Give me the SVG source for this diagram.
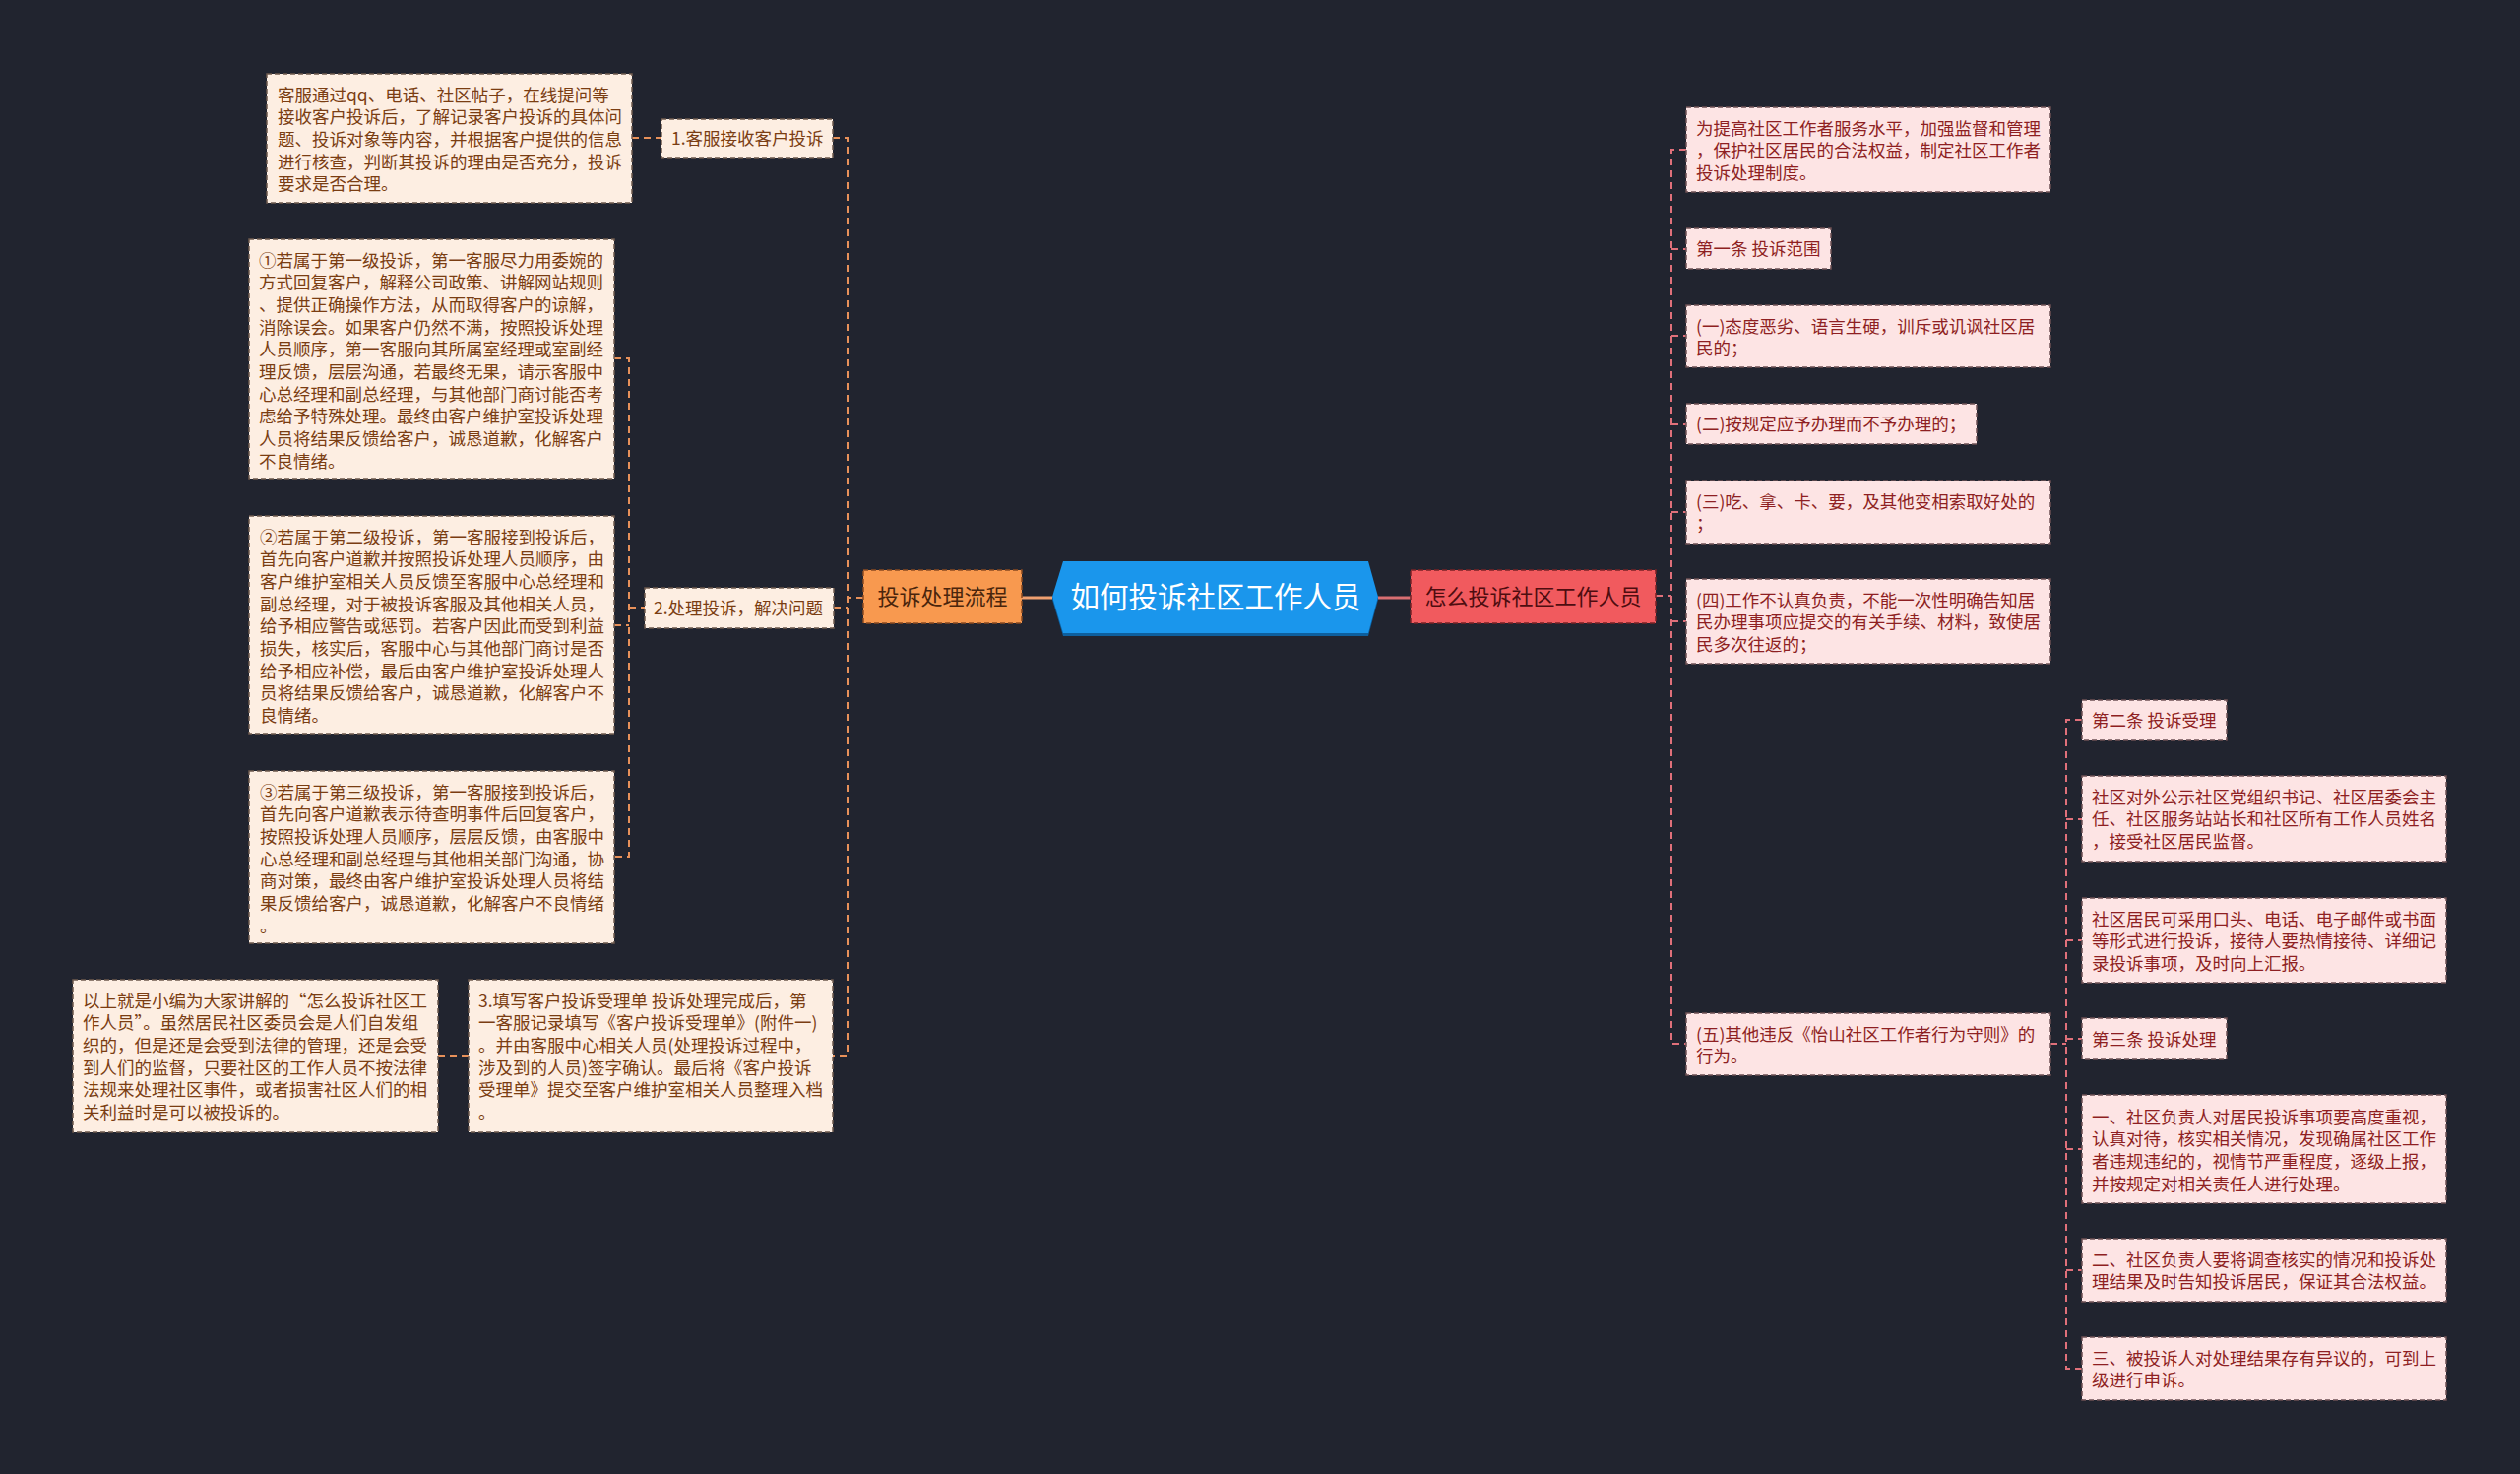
<svg xmlns="http://www.w3.org/2000/svg" width="2560" height="1497" viewBox="0 0 2560 1497">
<defs>
<style>
.t{font-family:"Noto Sans CJK SC","Liberation Sans",sans-serif;font-size:17.5px}
.lb{fill:#fdeee2;stroke:#6e5a4e;stroke-width:1.5;stroke-dasharray:5 3}
.lt{fill:#7a3d12}
.rb{fill:#fde4e4;stroke:#6e5054;stroke-width:1.5;stroke-dasharray:5 3}
.rt{fill:#8e1f22}
.lc{fill:none;stroke:#e8915a;stroke-width:2;stroke-dasharray:7 5}
.rc{fill:none;stroke:#e0707a;stroke-width:2;stroke-dasharray:7 5}
</style>
</defs>
<rect width="2560" height="1497" fill="#21242f"/>

<g id="connectors">
<path class="lc" d="M877,607 H861 M846,140 H861 V1072 H846 M847,617 H861"/>
<path class="lc" d="M642,140 H672"/>
<path class="lc" d="M624,364 H639 V870 H624 M624,635 H639 M639,617 H655"/>
<path class="lc" d="M445,1072 H476"/>
<path class="rc" d="M1682,605 H1698 M1713,152 H1698 V1060 H1713 M1698,253 H1713 M1698,341 H1713 M1698,431 H1713 M1698,520 H1713 M1698,631 H1713"/>
<path class="rc" d="M2083,1060 H2099 M2115,731 H2099 V1390 H2115 M2099,832 H2115 M2099,955 H2115 M2099,1055 H2115 M2099,1167 H2115 M2099,1290 H2115"/>
<path d="M1038,607 H1069" stroke="#f0a070" stroke-width="3"/>
<path d="M1400,607 H1433" stroke="#d96f72" stroke-width="3"/>
</g>

<g id="root">
<polygon points="1069,609 1080,573 1390,573 1400,609 1390,646 1080,646" fill="#0d5f9e"/>
<polygon points="1069,606 1080,570 1390,570 1400,606 1390,643 1080,643" fill="#1a96ec"/>
<text x="1235" y="617" text-anchor="middle" font-family="Noto Sans CJK SC, Liberation Sans, sans-serif" font-size="29.5" fill="#ffffff">如何投诉社区工作人员</text>
</g>

<g id="branch-left">
<rect x="877" y="579" width="161" height="54" fill="#f8994f" stroke="#8a4a20" stroke-width="1.5" stroke-dasharray="5 3"/>
<text x="957.5" y="614" text-anchor="middle" font-family="Noto Sans CJK SC, Liberation Sans, sans-serif" font-size="22" fill="#4a250c">投诉处理流程</text>
</g>

<g id="branch-right">
<rect x="1433" y="579" width="249" height="54" fill="#f15a5e" stroke="#7a2226" stroke-width="1.5" stroke-dasharray="5 3"/>
<text x="1557.5" y="614" text-anchor="middle" font-family="Noto Sans CJK SC, Liberation Sans, sans-serif" font-size="22" fill="#4e0d10">怎么投诉社区工作人员</text>
</g>

<g id="tag1">
<rect class="lb" x="672" y="121" width="174" height="39"/>
<text class="t lt" x="682" y="146.5">1.客服接收客户投诉</text>
</g>

<g id="boxA">
<rect class="lb" x="271" y="75" width="371" height="131"/>
<text class="t lt"><tspan x="282" y="102.5">客服通过qq、电话、社区帖子，在线提问等</tspan><tspan x="282" y="125.2">接收客户投诉后，了解记录客户投诉的具体问</tspan><tspan x="282" y="147.9">题、投诉对象等内容，并根据客户提供的信息</tspan><tspan x="282" y="170.6">进行核查，判断其投诉的理由是否充分，投诉</tspan><tspan x="282" y="193.3">要求是否合理。</tspan></text>
</g>

<g id="tag2">
<rect class="lb" x="655" y="597" width="192" height="41"/>
<text class="t lt" x="664" y="623.5">2.处理投诉，解决问题</text>
</g>

<g id="box1">
<rect class="lb" x="253" y="243" width="371" height="243"/>
<text class="t lt"><tspan x="263" y="270.5">①若属于第一级投诉，第一客服尽力用委婉的</tspan><tspan x="263" y="293.2">方式回复客户，解释公司政策、讲解网站规则</tspan><tspan x="263" y="315.9">、提供正确操作方法，从而取得客户的谅解，</tspan><tspan x="263" y="338.6">消除误会。如果客户仍然不满，按照投诉处理</tspan><tspan x="263" y="361.3">人员顺序，第一客服向其所属室经理或室副经</tspan><tspan x="263" y="384">理反馈，层层沟通，若最终无果，请示客服中</tspan><tspan x="263" y="406.7">心总经理和副总经理，与其他部门商讨能否考</tspan><tspan x="263" y="429.4">虑给予特殊处理。最终由客户维护室投诉处理</tspan><tspan x="263" y="452.1">人员将结果反馈给客户，诚恳道歉，化解客户</tspan><tspan x="263" y="474.8">不良情绪。</tspan></text>
</g>

<g id="box2">
<rect class="lb" x="253" y="524" width="371" height="221"/>
<text class="t lt"><tspan x="264" y="551.5">②若属于第二级投诉，第一客服接到投诉后，</tspan><tspan x="264" y="574.2">首先向客户道歉并按照投诉处理人员顺序，由</tspan><tspan x="264" y="596.9">客户维护室相关人员反馈至客服中心总经理和</tspan><tspan x="264" y="619.6">副总经理，对于被投诉客服及其他相关人员，</tspan><tspan x="264" y="642.3">给予相应警告或惩罚。若客户因此而受到利益</tspan><tspan x="264" y="665">损失，核实后，客服中心与其他部门商讨是否</tspan><tspan x="264" y="687.7">给予相应补偿，最后由客户维护室投诉处理人</tspan><tspan x="264" y="710.4">员将结果反馈给客户，诚恳道歉，化解客户不</tspan><tspan x="264" y="733.1">良情绪。</tspan></text>
</g>

<g id="box3">
<rect class="lb" x="253" y="783" width="371" height="175"/>
<text class="t lt"><tspan x="264" y="810.5">③若属于第三级投诉，第一客服接到投诉后，</tspan><tspan x="264" y="833.2">首先向客户道歉表示待查明事件后回复客户，</tspan><tspan x="264" y="855.9">按照投诉处理人员顺序，层层反馈，由客服中</tspan><tspan x="264" y="878.6">心总经理和副总经理与其他相关部门沟通，协</tspan><tspan x="264" y="901.3">商对策，最终由客户维护室投诉处理人员将结</tspan><tspan x="264" y="924">果反馈给客户，诚恳道歉，化解客户不良情绪</tspan><tspan x="264" y="946.7">。</tspan></text>
</g>

<g id="tag3">
<rect class="lb" x="476" y="995" width="370" height="155"/>
<text class="t lt"><tspan x="486" y="1022.5">3.填写客户投诉受理单 投诉处理完成后，第</tspan><tspan x="486" y="1045.2">一客服记录填写《客户投诉受理单》(附件一)</tspan><tspan x="486" y="1067.9">。并由客服中心相关人员(处理投诉过程中，</tspan><tspan x="486" y="1090.6">涉及到的人员)签字确认。最后将《客户投诉</tspan><tspan x="486" y="1113.3">受理单》提交至客户维护室相关人员整理入档</tspan><tspan x="486" y="1136">。</tspan></text>
</g>

<g id="boxEnd">
<rect class="lb" x="74" y="995" width="371" height="155"/>
<text class="t lt"><tspan x="84" y="1022.5">以上就是小编为大家讲解的“怎么投诉社区工</tspan><tspan x="84" y="1045.2">作人员”。虽然居民社区委员会是人们自发组</tspan><tspan x="84" y="1067.9">织的，但是还是会受到法律的管理，还是会受</tspan><tspan x="84" y="1090.6">到人们的监督，只要社区的工作人员不按法律</tspan><tspan x="84" y="1113.3">法规来处理社区事件，或者损害社区人们的相</tspan><tspan x="84" y="1136">关利益时是可以被投诉的。</tspan></text>
</g>

<g id="r1">
<rect class="rb" x="1713" y="109" width="370" height="86"/>
<text class="t rt"><tspan x="1723" y="136.5">为提高社区工作者服务水平，加强监督和管理</tspan><tspan x="1723" y="159.2">，保护社区居民的合法权益，制定社区工作者</tspan><tspan x="1723" y="181.9">投诉处理制度。</tspan></text>
</g>
<g id="r2">
<rect class="rb" x="1713" y="232" width="147" height="41"/>
<text class="t rt" x="1723" y="259">第一条 投诉范围</text>
</g>
<g id="r3">
<rect class="rb" x="1713" y="310" width="370" height="63"/>
<text class="t rt"><tspan x="1723" y="337.5">(一)态度恶劣、语言生硬，训斥或讥讽社区居</tspan><tspan x="1723" y="360.2">民的；</tspan></text>
</g>
<g id="r4">
<rect class="rb" x="1713" y="410" width="295" height="41"/>
<text class="t rt" x="1723" y="437">(二)按规定应予办理而不予办理的；</text>
</g>
<g id="r5">
<rect class="rb" x="1713" y="488" width="370" height="64"/>
<text class="t rt"><tspan x="1723" y="515.5">(三)吃、拿、卡、要，及其他变相索取好处的</tspan><tspan x="1723" y="538.2">；</tspan></text>
</g>
<g id="r6">
<rect class="rb" x="1713" y="588" width="370" height="86"/>
<text class="t rt"><tspan x="1723" y="615.5">(四)工作不认真负责，不能一次性明确告知居</tspan><tspan x="1723" y="638.2">民办理事项应提交的有关手续、材料，致使居</tspan><tspan x="1723" y="660.9">民多次往返的；</tspan></text>
</g>
<g id="r7">
<rect class="rb" x="1713" y="1029" width="370" height="63"/>
<text class="t rt"><tspan x="1723" y="1056.5">(五)其他违反《怡山社区工作者行为守则》的</tspan><tspan x="1723" y="1079.2">行为。</tspan></text>
</g>

<g id="s1">
<rect class="rb" x="2115" y="711" width="147" height="41"/>
<text class="t rt" x="2125" y="738">第二条 投诉受理</text>
</g>
<g id="s2">
<rect class="rb" x="2115" y="788" width="370" height="87"/>
<text class="t rt"><tspan x="2125" y="815.5">社区对外公示社区党组织书记、社区居委会主</tspan><tspan x="2125" y="838.2">任、社区服务站站长和社区所有工作人员姓名</tspan><tspan x="2125" y="860.9">，接受社区居民监督。</tspan></text>
</g>
<g id="s3">
<rect class="rb" x="2115" y="912" width="370" height="86"/>
<text class="t rt"><tspan x="2125" y="939.5">社区居民可采用口头、电话、电子邮件或书面</tspan><tspan x="2125" y="962.2">等形式进行投诉，接待人要热情接待、详细记</tspan><tspan x="2125" y="984.9">录投诉事项，及时向上汇报。</tspan></text>
</g>
<g id="s4">
<rect class="rb" x="2115" y="1034" width="147" height="42"/>
<text class="t rt" x="2125" y="1061.5">第三条 投诉处理</text>
</g>
<g id="s5">
<rect class="rb" x="2115" y="1112" width="370" height="110"/>
<text class="t rt"><tspan x="2125" y="1140.5">一、社区负责人对居民投诉事项要高度重视，</tspan><tspan x="2125" y="1163.2">认真对待，核实相关情况，发现确属社区工作</tspan><tspan x="2125" y="1185.9">者违规违纪的，视情节严重程度，逐级上报，</tspan><tspan x="2125" y="1208.6">并按规定对相关责任人进行处理。</tspan></text>
</g>
<g id="s6">
<rect class="rb" x="2115" y="1258" width="370" height="64"/>
<text class="t rt"><tspan x="2125" y="1285.5">二、社区负责人要将调查核实的情况和投诉处</tspan><tspan x="2125" y="1308.2">理结果及时告知投诉居民，保证其合法权益。</tspan></text>
</g>
<g id="s7">
<rect class="rb" x="2115" y="1358" width="370" height="64"/>
<text class="t rt"><tspan x="2125" y="1385.5">三、被投诉人对处理结果存有异议的，可到上</tspan><tspan x="2125" y="1408.2">级进行申诉。</tspan></text>
</g>
</svg>
